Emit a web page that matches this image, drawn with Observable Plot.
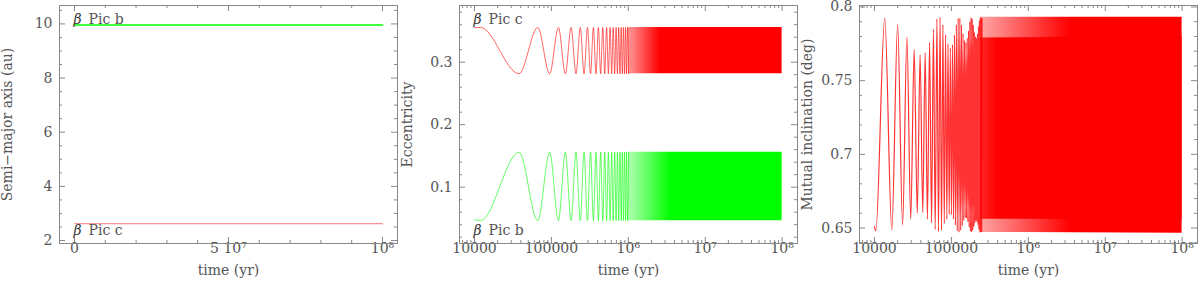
<!DOCTYPE html>
<html><head><meta charset="utf-8">
<script src="https://cdn.jsdelivr.net/npm/d3@7"></script>
<script src="https://cdn.jsdelivr.net/npm/@observablehq/plot@0.6"></script>
<style>
body{margin:0;background:#fff;}
#row{display:flex;width:1200px;height:281px;}
#row > div{width:400px;height:281px;}
</style></head><body><div id="row"><div id="p1"></div><div id="p2"></div><div id="p3"></div></div>
<script>
// ---------- data ----------
// Panel 1: semi-major axis (au)
const semiTime = [0, 1e8];
const semiB = [9.96, 9.96];
const semiC = [2.62, 2.62];

// Panel 2: eccentricity, resolved extrema (yr)
const eccTime = [10000, 12000, 38000, 66500, 95000, 123500, 152000, 180500, 209000, 237500, 266000, 294500, 323000, 351500, 380000, 408500, 437000, 465500, 494000, 522500, 551000, 579500, 608000, 636500, 665000, 693500, 722000, 750500, 779000, 807500, 836000, 864500, 893000, 921500, 950000, 978500, 1007000];
const eccC = [0.3553, 0.3555, 0.2815, 0.3555, 0.2815, 0.3555, 0.2815, 0.3555, 0.2815, 0.3555, 0.2815, 0.3555, 0.2815, 0.3555, 0.2815, 0.3555, 0.2815, 0.3555, 0.2815, 0.3555, 0.2815, 0.3555, 0.2815, 0.3555, 0.2815, 0.3555, 0.2815, 0.3555, 0.2815, 0.3555, 0.2815, 0.3555, 0.2815, 0.3555, 0.2815, 0.3555, 0.2815];
const eccB = [0.048, 0.0465, 0.156, 0.0465, 0.156, 0.0465, 0.156, 0.0465, 0.156, 0.0465, 0.156, 0.0465, 0.156, 0.0465, 0.156, 0.0465, 0.156, 0.0465, 0.156, 0.0465, 0.156, 0.0465, 0.156, 0.0465, 0.156, 0.0465, 0.156, 0.0465, 0.156, 0.0465, 0.156, 0.0465, 0.156, 0.0465, 0.156, 0.0465, 0.156];
// unresolved (dense) oscillation envelope
const eccBandTime = [1007000, 1e8];
const eccCLow = [0.2815, 0.2815];
const eccCHigh = [0.3555, 0.3555];
const eccBLow = [0.0465, 0.0465];
const eccBHigh = [0.156, 0.156];

// Panel 3: mutual inclination (deg), resolved extrema
const incTime = [10000, 10400, 13600, 16800, 20000, 23200, 26400, 29600, 32800, 36000, 39200, 42400, 45600, 48800, 52000, 55200, 58400, 61600, 64800, 68000, 71200, 74400, 77600, 80800, 84000, 87200, 90400, 93600, 96800, 100000, 103200, 106400, 109600, 112800, 116000, 119200, 122400, 125600, 128800, 132000, 135200, 138400, 141600, 144800, 148000, 151200, 154400, 157600, 160800, 164000, 167200, 170400, 173600, 176800, 180000, 183200, 186400, 189600, 192800, 196000, 199200, 202400, 205600, 208800, 212000, 215200, 218400, 221600, 224800, 228000, 231200, 234400, 237600, 240800, 244000, 247200, 250400];
const incVal = [0.651, 0.648, 0.7925, 0.6485, 0.788, 0.652, 0.7795, 0.656, 0.771, 0.660,
  0.7675, 0.6605, 0.769, 0.656, 0.776, 0.6535, 0.785, 0.649, 0.792, 0.6475,
  0.793, 0.6485, 0.788, 0.653, 0.781, 0.656, 0.775, 0.6595, 0.772, 0.659,
  0.7745, 0.656, 0.781, 0.652, 0.788, 0.648, 0.7925, 0.647, 0.7925, 0.6485,
  0.788, 0.6515, 0.782, 0.655, 0.7775, 0.657, 0.776, 0.6565, 0.779, 0.654,
  0.784, 0.6505, 0.790, 0.6477, 0.793, 0.647, 0.792, 0.6485, 0.788, 0.651,
  0.783, 0.6535, 0.780, 0.655, 0.779, 0.654, 0.782, 0.652, 0.787, 0.649,
  0.791, 0.647, 0.793, 0.647, 0.793, 0.6475, 0.792];
// unresolved region: always-covered inner band and full outer envelope
const incBandTime = [240000, 1e8];
const incInnerLow = [0.656, 0.6555];
const incInnerHigh = [0.779, 0.780];
const incOuterLow = [0.647, 0.6465];
const incOuterHigh = [0.793, 0.793];

// ---------- ticks ----------
const semiXTicks = [0, 5e7, 1e8];
const semiXLabels = ["0", "5 10\u2077", "10\u2078"];
const semiYTicks = [2, 4, 6, 8, 10];
const semiYLabels = ["2", "4", "6", "8", "10"];
const logXTicks = [1e4, 1e5, 1e6, 1e7, 1e8];
const logXLabels = ["10000", "100000", "10\u2076", "10\u2077", "10\u2078"];
const eccYTicks = [0.1, 0.2, 0.3];
const eccYLabels = ["0.1", "0.2", "0.3"];
const incYTicks = [0.65, 0.7, 0.75, 0.8];
const incYLabels = ["0.65", "0.7", "0.75", "0.8"];

function minorLinear(start, stop, step, majors) {
  const out = [];
  for (let v = start; v <= stop + step / 1e6; v += step) {
    const r = Math.round(v / step) * step;
    if (!majors.some(m => Math.abs(m - r) < step / 100)) out.push(r);
  }
  return out;
}
const semiXMinor = minorLinear(1e7, 9e7, 1e7, semiXTicks);
const semiYMinor = minorLinear(2, 10.5, 0.5, semiYTicks);
const eccYMinor = minorLinear(0.02, 0.38, 0.02, eccYTicks);
const incYMinor = minorLinear(0.64, 0.80, 0.01, incYTicks);
const logXMinor = [7e3, 8e3, 9e3];
for (const dec of [1e4, 1e5, 1e6, 1e7]) for (let k = 2; k <= 9; k++) logXMinor.push(k * dec);

// ---------- helpers ----------
const FRAME = "#888";
const TXT = "#555";
const W = 400, H = 281, ML = 59, MR = 3, MT = 5, MB = 38;
const IW = W - ML - MR, IH = H - MT - MB;
const MAJ = 6, MIN = 3;
const common = {
  width: W, height: H,
  marginLeft: ML, marginRight: MR, marginTop: MT, marginBottom: MB,
  style: {fontFamily: "'DejaVu Serif', serif", fontSize: "14px", color: TXT, background: "white", overflow: "visible"}
};

function axes(o) {
  const s = {stroke: FRAME, strokeWidth: 1};
  return [
    // inward ticks on all four sides
    Plot.ruleX(o.xMaj, {x: d => d, insetTop: IH - MAJ, ...s}),
    Plot.ruleX(o.xMaj, {x: d => d, insetBottom: IH - MAJ, ...s}),
    Plot.ruleX(o.xMin, {x: d => d, insetTop: IH - MIN, ...s}),
    Plot.ruleX(o.xMin, {x: d => d, insetBottom: IH - MIN, ...s}),
    Plot.ruleY(o.yMaj, {y: d => d, insetRight: IW - MAJ, ...s}),
    Plot.ruleY(o.yMaj, {y: d => d, insetLeft: IW - MAJ, ...s}),
    Plot.ruleY(o.yMin, {y: d => d, insetRight: IW - MIN, ...s}),
    Plot.ruleY(o.yMin, {y: d => d, insetLeft: IW - MIN, ...s}),
    Plot.axisX(o.xMaj, {anchor: "bottom", tickSize: 0, tickPadding: 0,
      tickFormat: d => o.xLab[o.xMaj.indexOf(d)], fill: TXT,
      label: "time (yr)", labelAnchor: "center", labelArrow: "none", labelOffset: 31}),
    Plot.axisY(o.yMaj, {anchor: "left", tickSize: 0, tickPadding: 7,
      tickFormat: d => o.yLab[o.yMaj.indexOf(d)], fill: TXT,
      label: o.yTitle, labelAnchor: "center", labelArrow: "none", labelOffset: 57}),
    Plot.frame({stroke: FRAME})
  ];
}

function planetLabel(x, y, name) {
  return [
    Plot.text([0], {x: () => x, y: () => y, text: () => "\u03b2", textAnchor: "start", lineAnchor: "middle",
      fontStyle: "italic", fill: "#333", dx: -1}),
    Plot.text([0], {x: () => x, y: () => y, text: () => "Pic " + name, textAnchor: "start", lineAnchor: "middle",
      fill: TXT, dx: 14})
  ];
}

function gradient(id, color, t0, t1, o0) {
  return (index, scales) => {
    const ns = "http://www.w3.org/2000/svg";
    const defs = document.createElementNS(ns, "defs");
    const g = document.createElementNS(ns, "linearGradient");
    g.setAttribute("id", id);
    g.setAttribute("gradientUnits", "userSpaceOnUse");
    g.setAttribute("x1", scales.x(t0)); g.setAttribute("x2", scales.x(t1));
    g.setAttribute("y1", 0); g.setAttribute("y2", 0);
    for (const [off, op] of [[0, o0], [1, 1]]) {
      const st = document.createElementNS(ns, "stop");
      st.setAttribute("offset", off);
      st.setAttribute("stop-color", color);
      st.setAttribute("stop-opacity", op);
      g.appendChild(st);
    }
    defs.appendChild(g);
    return defs;
  };
}

// ---------- panel 1 ----------
const semiRows = semiTime.map((t, i) => ({t, b: semiB[i], c: semiC[i]}));
document.getElementById("p1").appendChild(Plot.plot({
  ...common,
  x: {type: "linear", domain: [-4.87e6, 1.0487e8]},
  y: {domain: [1.89, 10.68]},
  marks: [
    ...axes({xMaj: semiXTicks, xMin: semiXMinor, xLab: semiXLabels, yMaj: semiYTicks, yMin: semiYMinor, yLab: semiYLabels, yTitle: "Semi\u2212major axis (au)"}),
    Plot.line(semiRows, {x: "t", y: "b", stroke: "#00ff00", strokeWidth: 1.6}),
    Plot.line(semiRows, {x: "t", y: "c", stroke: "#ff0000", strokeWidth: 1, strokeOpacity: 0.55}),
    ...planetLabel(0, 10.18, "b"),
    ...planetLabel(0, 2.37, "c")
  ]
}));

// ---------- panel 2 ----------
const eccRows = eccTime.map((t, i) => ({t, c: eccC[i], b: eccB[i]}));
const eccBand = eccBandTime.map((t, i) => ({t, cl: eccCLow[i], ch: eccCHigh[i], bl: eccBLow[i], bh: eccBHigh[i]}));
document.getElementById("p2").appendChild(Plot.plot({
  ...common,
  x: {type: "log", domain: [6383, 1.585e8]},
  y: {domain: [0.0099, 0.3907]},
  marks: [
    ...axes({xMaj: logXTicks, xMin: logXMinor, xLab: logXLabels, yMaj: eccYTicks, yMin: eccYMinor, yLab: eccYLabels, yTitle: "Eccentricity"}),
    gradient("gradEccC", "#ff0000", 1.0e6, 2.6e6, 0.4),
    gradient("gradEccB", "#00ff00", 1.0e6, 3.6e6, 0.3),
    Plot.areaY(eccBand, {x: "t", y1: "cl", y2: "ch", fill: "url(#gradEccC)"}),
    Plot.areaY(eccBand, {x: "t", y1: "bl", y2: "bh", fill: "url(#gradEccB)"}),
    Plot.line(eccRows, {x: "t", y: "c", curve: "monotone-x", stroke: "#ff0000", strokeWidth: 1, strokeOpacity: 0.6}),
    Plot.line(eccRows, {x: "t", y: "b", curve: "monotone-x", stroke: "#00ff00", strokeWidth: 1, strokeOpacity: 0.6}),
    ...planetLabel(1e4, 0.368, "c"),
    ...planetLabel(1e4, 0.0307, "b")
  ]
}));

// ---------- panel 3 ----------
const incRows = incTime.map((t, i) => ({t, v: incVal[i]}));
const incBand = incBandTime.map((t, i) => ({t, il: incInnerLow[i], ih: incInnerHigh[i], ol: incOuterLow[i], oh: incOuterHigh[i]}));
document.getElementById("p3").appendChild(Plot.plot({
  ...common,
  x: {type: "log", domain: [6383, 1.585e8]},
  y: {domain: [0.6395, 0.8010]},
  marks: [
    ...axes({xMaj: logXTicks, xMin: logXMinor, xLab: logXLabels, yMaj: incYTicks, yMin: incYMinor, yLab: incYLabels, yTitle: "Mutual inclination (deg)"}),
    gradient("gradIncOuter", "#ff0000", 2.4e5, 3.5e6, 0.35),
    gradient("gradIncInner", "#ff0000", 2.4e5, 4.0e5, 0.75),
    Plot.areaY(incBand, {x: "t", y1: "ol", y2: "oh", fill: "url(#gradIncOuter)"}),
    Plot.areaY(incBand, {x: "t", y1: "il", y2: "ih", fill: "url(#gradIncInner)"}),
    Plot.line(incRows, {x: "t", y: "v", curve: "monotone-x", stroke: "#ff0000", strokeWidth: 1.2, strokeOpacity: 0.8})
  ]
}));
</script></body></html>
